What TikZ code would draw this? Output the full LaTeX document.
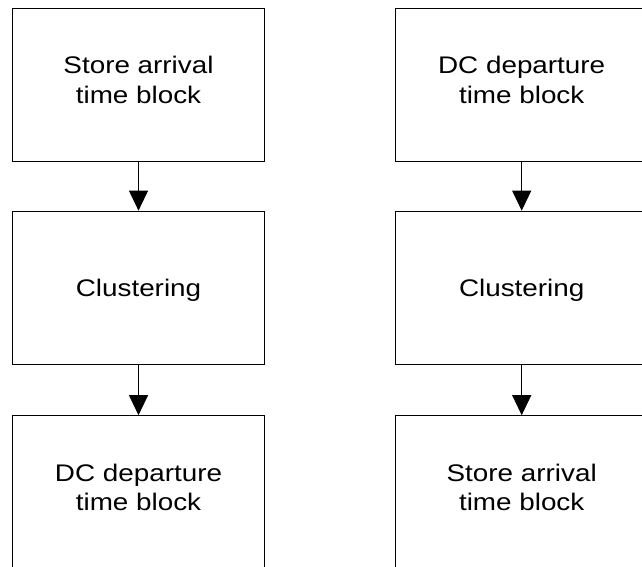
\documentclass[tikz,border=0pt]{standalone}
\usepackage{fontspec}
\setmainfont[FakeStretch=1.16]{Liberation Sans}
\usetikzlibrary{arrows.meta}
\begin{document}
\begin{tikzpicture}[x=1pt,y=1pt,
  stage/.style={draw=black, line width=1pt, minimum width=252pt, minimum height=153pt, inner sep=0pt},
  caption/.style={anchor=base, align=center, inner sep=0pt,
    font=\fontsize{24}{29.3}\selectfont},
  flow/.style={draw=black, line width=1pt, -{Triangle[width=19pt,length=20pt]}}]
  \useasboundingbox (0,0) rectangle (642,567);
  \clip (0,0) rectangle (642,567);
  \fill[white] (0,0) rectangle (642,567);

  % left column
  \node[stage] (l1) at (138.5,482.35) {};
  \node[stage] (l2) at (138.5,279.35) {};
  \node[stage] (l3) at (138.5,74.8) {};
  % right column
  \node[stage] (r1) at (521.7,482.35) {};
  \node[stage] (r2) at (521.7,279.35) {};
  \node[stage] (r3) at (521.7,74.8) {};

  % captions (base anchor sits on the last line)
  \node[caption] (l1t) at ([yshift=-18.65pt]l1.center) {Store arrival\\time block};
  \node[caption] (l2t) at ([yshift=-9.05pt]l2.center) {Clustering};
  \node[caption] (l3t) at ([yshift=-18.65pt]l3.center) {DC departure\\time block};
  \node[caption] (r1t) at ([yshift=-18.65pt]r1.center) {DC departure\\time block};
  \node[caption] (r2t) at ([yshift=-9.05pt]r2.center) {Clustering};
  \node[caption] (r3t) at ([yshift=-18.65pt]r3.center) {Store arrival\\time block};

  % connectors
  \draw[flow] (l1.south) -- (l2.north);
  \draw[flow] (l2.south) -- (l3.north);
  \draw[flow] (r1.south) -- (r2.north);
  \draw[flow] (r2.south) -- (r3.north);
\end{tikzpicture}
\end{document}
